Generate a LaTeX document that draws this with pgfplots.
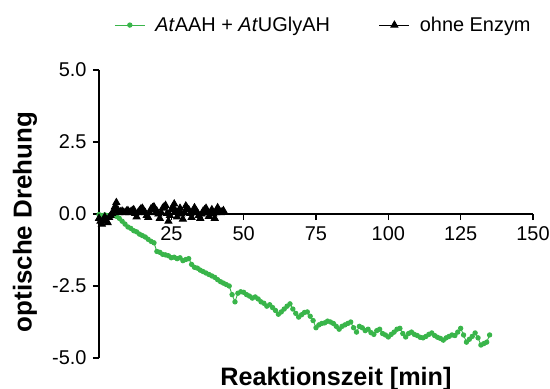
\documentclass[border=0pt]{standalone}
\usepackage{pgfplots}
\pgfplotsset{compat=1.18}
\usepackage{fontspec}
\setmainfont{Liberation Sans}
\definecolor{grn}{RGB}{57,181,74}
\begin{document}
\begin{tikzpicture}
\begin{axis}[
  at={(0,0)}, anchor=south west,
  scale only axis, width=434bp, height=288bp,
  xmin=0, xmax=150, ymin=-5, ymax=5,
  axis x line=middle, axis y line=left,
  axis line style={line width=1.4bp,-},
  x axis line style={-}, y axis line style={-},
  xtick={25,50,75,100,125,150},
  xticklabels={25,50,75,100,125,150},
  ytick={-5,-2.5,0,2.5,5},
  yticklabels={-5.0,-2.5,0.0,2.5,5.0},
  tick align=outside,
  major tick length=6bp,
  tick style={line width=1.4bp,black},
  ticklabel style={font=\fontsize{20}{23}\selectfont},
  xticklabel style={yshift=-3bp},
  yticklabel style={xshift=-3bp},
  clip=false,
  legend columns=2,
  legend style={draw=none, fill=none, at={(0.035,1.156)}, anchor=west,
    font=\fontsize{20}{23}\selectfont,
    /tikz/every even column/.append style={column sep=39bp},
    nodes={inner xsep=10bp},
    inner sep=0pt},
  legend image code/.code={\draw[mark repeat=2,mark phase=2,#1] plot coordinates {(0bp,0bp) (15bp,0bp) (30bp,0bp)};},
]
\addplot[color=grn, line width=0.9bp, mark=*, mark size=2.2bp, mark options={fill=grn, draw=grn}] coordinates {
(0,-0.02)(1,-0.05)(2,-0.03)(3,-0.06)(4,-0.04)(5,-0.05)(6,-0.08)(7,-0.15)(8,-0.25)(9,-0.35)
(10,-0.45)(11,-0.50)(12,-0.58)(13,-0.62)(14,-0.70)(15,-0.75)(16,-0.80)(17,-0.88)(18,-0.95)(19,-1.00)
(20,-1.30)(21,-1.33)(22,-1.40)(23,-1.42)(24,-1.45)(25,-1.52)(26,-1.50)(27,-1.55)(28,-1.52)(29,-1.62)
(30,-1.58)(31,-1.55)(32,-1.75)(33,-1.85)(34,-1.88)(35,-1.95)(36,-2.00)(37,-2.05)(38,-2.10)(39,-2.15)
(40,-2.20)(41,-2.28)(42,-2.35)(43,-2.40)(44,-2.45)(45,-2.50)(46,-2.80)(47,-3.05)(48,-2.75)(49,-2.70)
(50,-2.72)(51,-2.80)(52,-2.85)(53,-2.92)(54,-2.88)(55,-2.95)(56,-3.05)(57,-3.10)(58,-3.20)(59,-3.15)
(60,-3.25)(61,-3.35)(62,-3.48)(63,-3.40)(64,-3.30)(65,-3.20)(66,-3.12)(67,-3.30)(68,-3.45)(69,-3.58)
(70,-3.50)(71,-3.42)(72,-3.40)(73,-3.55)(74,-3.70)(75,-3.95)(76,-3.85)(77,-3.80)(78,-3.78)(79,-3.72)
(80,-3.75)(81,-3.80)(82,-3.90)(83,-4.00)(84,-3.90)(85,-3.85)(86,-3.80)(87,-3.75)(88,-3.95)(89,-4.10)
(90,-3.90)(91,-3.95)(92,-4.05)(93,-4.00)(94,-4.12)(95,-4.18)(96,-4.05)(97,-4.00)(98,-4.15)(99,-4.20)
(100,-4.27)(101,-4.18)(102,-4.10)(103,-4.00)(104,-3.97)(105,-4.15)(106,-4.27)(107,-4.15)(108,-4.10)(109,-4.18)
(110,-4.22)(111,-4.28)(112,-4.30)(113,-4.25)(114,-4.18)(115,-4.13)(116,-4.22)(117,-4.28)(118,-4.32)(119,-4.38)
(120,-4.30)(121,-4.25)(122,-4.20)(123,-4.22)(124,-4.10)(125,-3.97)(126,-4.20)(127,-4.45)(128,-4.35)(129,-4.25)
(130,-4.13)(131,-4.30)(132,-4.55)(133,-4.50)(134,-4.45)(135,-4.20)
};
\addlegendentry{\textit{At}AAH + \textit{At}UGlyAH}
\addplot[color=black, line width=0.9bp, mark=triangle*, mark size=4bp, mark options={fill=black}] coordinates {
(0,-0.15)(0.5,-0.25)(1,-0.35)(1.5,-0.20)(2,-0.10)(2.5,-0.22)(3,-0.30)(3.5,-0.12)(4,-0.05)(4.5,0.02)
(5,0.10)(5.5,0.25)(6,0.40)(6.5,0.15)(7,0.05)(7.5,0.08)(8,0.10)(8.5,0.06)(9,0.05)(9.5,0.10)
(10,0.12)(10.5,0.05)(11,0.08)(11.5,0.12)(12,0.15)(12.5,0.02)(13,-0.10)(13.5,0.05)(14,0.12)(14.5,0.18)
(15,0.20)(15.5,0.10)(16,0.05)(16.5,-0.05)(17,-0.12)(17.5,0.05)(18,0.18)(18.5,0.22)(19,0.25)(19.5,0.15)
(20,0.10)(20.5,0.00)(21,-0.15)(21.5,0.05)(22,0.20)(22.5,0.25)(23,0.30)(23.5,0.02)(24,-0.25)(24.5,-0.05)
(25,0.15)(25.5,0.25)(26,0.35)(26.5,0.10)(27,-0.10)(27.5,0.08)(28,0.20)(28.5,0.00)(29,-0.18)(29.5,0.05)
(30,0.28)(30.5,0.20)(31,0.15)(31.5,0.02)(32,-0.12)(32.5,0.05)(33,0.22)(33.5,0.12)(34,0.05)(34.5,-0.05)
(35,-0.15)(35.5,0.00)(36,0.10)(36.5,0.15)(37,0.20)(37.5,0.05)(38,-0.08)(38.5,0.05)(39,0.15)(39.5,0.00)
(40,-0.15)(40.5,0.05)(41,0.22)(41.5,0.12)(42,0.05)(42.5,0.08)(43,0.12)
};
\addlegendentry{ohne Enzym}
\node[font=\bfseries\fontsize{25.3}{28}\selectfont, anchor=base] at ([yshift=-27bp]rel axis cs:0.546,0) {Reaktionszeit [min]};
\node[font=\bfseries\fontsize{26}{29}\selectfont, rotate=90, anchor=center] at ([xshift=-74bp]rel axis cs:0,0.472) {optische Drehung};
\end{axis}
\pgfresetboundingbox
\path (-99bp,-31bp) rectangle (451bp,358bp);
\end{tikzpicture}
\end{document}
